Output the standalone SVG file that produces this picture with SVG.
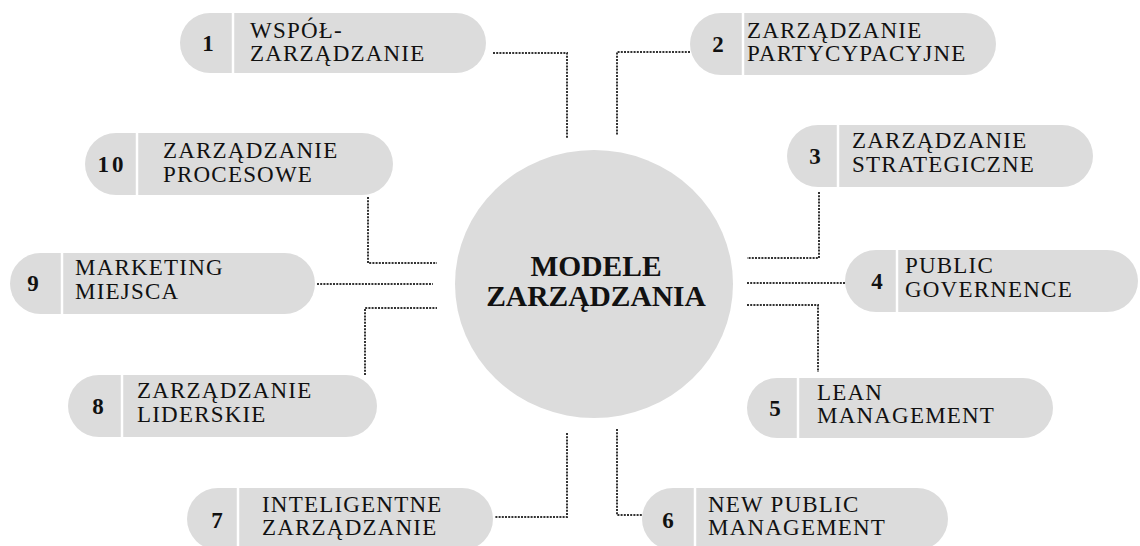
<svg xmlns="http://www.w3.org/2000/svg" width="1140" height="546" viewBox="0 0 1140 546">
<style>
.pill{fill:#dcdcdc}
.div{stroke:#ffffff;stroke-width:2.5}
.num{font-family:"Liberation Serif","Times New Roman",serif;font-weight:bold;font-size:23px;fill:#111;text-anchor:middle}
.lbl{font-family:"Liberation Serif","Times New Roman",serif;font-size:23px;letter-spacing:1.2px;fill:#111}
.title{font-family:"Liberation Serif","Times New Roman",serif;font-weight:bold;font-size:29.5px;fill:#111;text-anchor:middle}
.con{fill:none;stroke:#333;stroke-width:2;stroke-dasharray:2 1.2}
</style>
<rect width="1140" height="546" fill="#ffffff"/>
<g id="connectors">
<polyline class="con" points="493,53 567,53 567,138"/>
<polyline class="con" points="690,52 617,52 617,135"/>
<polyline class="con" points="368,197 368,263 437,263"/>
<polyline class="con" points="317,284 433,284"/>
<polyline class="con" points="365,375 365,308 437,308"/>
<polyline class="con" points="819,192 819,258 747,258"/>
<polyline class="con" points="747,283 845,283"/>
<polyline class="con" points="747,305 818,305 818,372"/>
<polyline class="con" points="567,433 567,517 495,517"/>
<polyline class="con" points="617,429 617,515 642,515"/>
</g>
<g id="center">
<ellipse cx="594" cy="284" rx="139" ry="134" fill="#dcdcdc"/>
<text class="title" x="596" y="276">MODELE</text>
<text class="title" x="596" y="306">ZARZĄDZANIA</text>
</g>
<g id="node1">
<rect class="pill" x="180" y="13" width="306" height="60" rx="30"/>
<line class="div" x1="233" y1="13" x2="233" y2="73"/>
<text class="num" x="208" y="51">1</text>
<text class="lbl" x="250" y="38">WSPÓŁ-</text>
<text class="lbl" x="250" y="61">ZARZĄDZANIE</text>
</g>
<g id="node2">
<rect class="pill" x="690" y="13" width="306" height="62" rx="31"/>
<line class="div" x1="743" y1="13" x2="743" y2="75"/>
<text class="num" x="718" y="52">2</text>
<text class="lbl" x="747" y="38">ZARZĄDZANIE</text>
<text class="lbl" x="747" y="61">PARTYCYPACYJNE</text>
</g>
<g id="node3">
<rect class="pill" x="787" y="125" width="306" height="62" rx="31"/>
<line class="div" x1="838" y1="125" x2="838" y2="187"/>
<text class="num" x="815" y="164">3</text>
<text class="lbl" x="852" y="148">ZARZĄDZANIE</text>
<text class="lbl" x="852" y="172">STRATEGICZNE</text>
</g>
<g id="node4">
<rect class="pill" x="845" y="250" width="293" height="62" rx="31"/>
<line class="div" x1="897" y1="250" x2="897" y2="312"/>
<text class="num" x="877" y="289">4</text>
<text class="lbl" x="905" y="273">PUBLIC</text>
<text class="lbl" x="905" y="297">GOVERNENCE</text>
</g>
<g id="node5">
<rect class="pill" x="747" y="378" width="306" height="60" rx="30"/>
<line class="div" x1="798" y1="378" x2="798" y2="438"/>
<text class="num" x="775" y="416">5</text>
<text class="lbl" x="817" y="400">LEAN</text>
<text class="lbl" x="817" y="423">MANAGEMENT</text>
</g>
<g id="node6">
<rect class="pill" x="642" y="488" width="306" height="62" rx="31"/>
<line class="div" x1="695" y1="488" x2="695" y2="550"/>
<text class="num" x="668" y="528">6</text>
<text class="lbl" x="708" y="512">NEW PUBLIC</text>
<text class="lbl" x="708" y="535">MANAGEMENT</text>
</g>
<g id="node7">
<rect class="pill" x="187" y="488" width="306" height="62" rx="31"/>
<line class="div" x1="238" y1="488" x2="238" y2="550"/>
<text class="num" x="217" y="528">7</text>
<text class="lbl" x="262" y="512">INTELIGENTNE</text>
<text class="lbl" x="262" y="535">ZARZĄDZANIE</text>
</g>
<g id="node8">
<rect class="pill" x="68" y="375" width="309" height="62" rx="31"/>
<line class="div" x1="122" y1="375" x2="122" y2="437"/>
<text class="num" x="98" y="414">8</text>
<text class="lbl" x="137" y="398">ZARZĄDZANIE</text>
<text class="lbl" x="137" y="422">LIDERSKIE</text>
</g>
<g id="node9">
<rect class="pill" x="10" y="253" width="305" height="61" rx="30.5"/>
<line class="div" x1="62" y1="253" x2="62" y2="314"/>
<text class="num" x="33" y="291">9</text>
<text class="lbl" x="75" y="275">MARKETING</text>
<text class="lbl" x="75" y="299">MIEJSCA</text>
</g>
<g id="node10">
<rect class="pill" x="85" y="133" width="308" height="62" rx="31"/>
<line class="div" x1="137" y1="133" x2="137" y2="195"/>
<text class="num" x="112" y="172" letter-spacing="3">10</text>
<text class="lbl" x="163" y="158">ZARZĄDZANIE</text>
<text class="lbl" x="163" y="182">PROCESOWE</text>
</g>
</svg>
